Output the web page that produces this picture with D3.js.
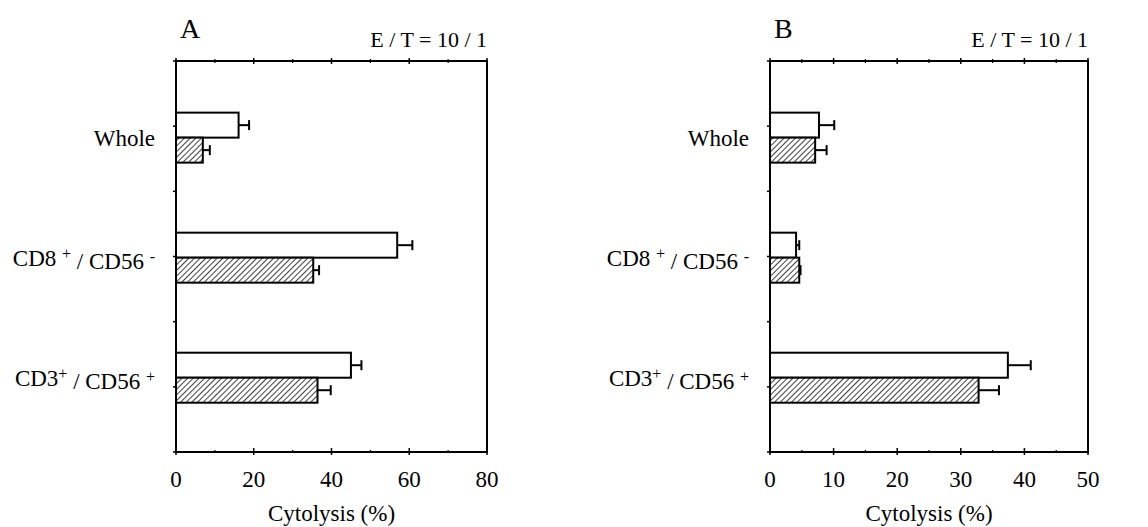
<!DOCTYPE html>
<html>
<head>
<meta charset="utf-8">
<script src="https://cdn.jsdelivr.net/npm/d3@7"></script>
<style>
  body { margin: 0; background: #fff; }
  svg text { font-family: "Liberation Serif", "DejaVu Serif", serif; fill: #000; }
</style>
</head>
<body>
<svg id="chart" width="1148" height="527"></svg>
<script>
// categories, top to bottom
const categories = ["Whole", "CD8/CD56-", "CD3/CD56+"];
// label pieces: [text, superscript]
const categoryLabels = [
  [["Whole", ""]],
  [["CD8 ", "+"], [" / CD56 ", "-"]],
  [["CD3", "+"], [" / CD56 ", "+"]],
];

// panel A
const aOpen = [16.1, 56.9, 45.0];
const aOpenErr = [2.7, 3.9, 2.7];
const aHatched = [6.9, 35.3, 36.4];
const aHatchedErr = [1.8, 1.5, 3.4];
const aMajorTicks = [0, 20, 40, 60, 80];
const aMinorTicks = [10, 30, 50, 70];

// panel B
const bOpen = [7.7, 4.1, 37.4];
const bOpenErr = [2.4, 0.5, 3.6];
const bHatched = [7.1, 4.6, 32.8];
const bHatchedErr = [1.8, 0.2, 3.2];
const bMajorTicks = [0, 10, 20, 30, 40, 50];
const bMinorTicks = [5, 15, 25, 35, 45];

const svg = d3.select("#chart");

// hatch pattern for the shaded bars
const defs = svg.append("defs");
const pat = defs.append("pattern")
  .attr("id", "hatch")
  .attr("patternUnits", "userSpaceOnUse")
  .attr("width", 4).attr("height", 4)
  .attr("patternTransform", "rotate(45)");
pat.append("rect").attr("width", 4).attr("height", 4).attr("fill", "#fff");
pat.append("line")
  .attr("x1", 0).attr("y1", 0).attr("x2", 0).attr("y2", 4)
  .attr("stroke", "#000").attr("stroke-width", 1.5);

function drawPanel(cfg) {
  const h = 391, w = cfg.width;
  const g = svg.append("g").attr("transform", `translate(${cfg.left},61)`);

  const x = d3.scaleLinear().domain([0, cfg.max]).range([0, w]);
  // axis ticks on the left: category centres and separators
  const yAxis = d3.scaleLinear().domain([0, 6]).range([0, h]);
  // bar pair centres
  const yBar = d3.scalePoint().domain(categories).range([h * 0.196, h * 0.81]);
  const barH = 25;

  categories.forEach((c, i) => {
    const cy = yBar(c);
    const rows = [
      { v: cfg.open[i], e: cfg.openErr[i], y: cy - barH, fill: "#fff" },
      { v: cfg.hatched[i], e: cfg.hatchedErr[i], y: cy, fill: "url(#hatch)" },
    ];
    rows.forEach(r => {
      g.append("line")
        .attr("x1", x(r.v)).attr("x2", x(r.v + r.e))
        .attr("y1", r.y + barH / 2).attr("y2", r.y + barH / 2)
        .attr("stroke", "#000").attr("stroke-width", 2);
      g.append("line")
        .attr("x1", x(r.v + r.e)).attr("x2", x(r.v + r.e))
        .attr("y1", r.y + barH / 2 - 5).attr("y2", r.y + barH / 2 + 5)
        .attr("stroke", "#000").attr("stroke-width", 2);
      g.append("rect")
        .attr("x", x(0)).attr("y", r.y)
        .attr("width", x(r.v) - x(0)).attr("height", barH)
        .attr("fill", r.fill)
        .attr("stroke", "#000").attr("stroke-width", 2);
    });

    // category label with raised signs
    const t = g.append("text")
      .attr("x", -21).attr("y", cy)
      .attr("dy", "0.35em")
      .attr("text-anchor", "end")
      .style("font-size", "23px");
    let raised = false;
    categoryLabels[i].forEach(([txt, sup]) => {
      const base = t.append("tspan").text(txt);
      if (raised) { base.attr("dy", "0.45em"); raised = false; }
      if (sup) {
        t.append("tspan").attr("dy", "-0.45em").style("font-size", "16px").text(sup);
        raised = true;
      }
    });
  });

  // frame
  g.append("rect")
    .attr("width", w).attr("height", h)
    .attr("fill", "none").attr("stroke", "#000").attr("stroke-width", 2);

  // x ticks top and bottom
  cfg.major.forEach(v => {
    g.append("line").attr("x1", x(v)).attr("x2", x(v)).attr("y1", -3).attr("y2", 3)
      .attr("stroke", "#000").attr("stroke-width", 1.5);
    g.append("line").attr("x1", x(v)).attr("x2", x(v)).attr("y1", h - 4).attr("y2", h + 3)
      .attr("stroke", "#000").attr("stroke-width", 1.5);
    g.append("text").attr("x", x(v)).attr("y", h + 35)
      .attr("text-anchor", "middle").style("font-size", "23px").text(v);
  });
  cfg.minor.forEach(v => {
    g.append("line").attr("x1", x(v)).attr("x2", x(v)).attr("y1", -2).attr("y2", 2)
      .attr("stroke", "#000").attr("stroke-width", 1.2);
    g.append("line").attr("x1", x(v)).attr("x2", x(v)).attr("y1", h - 2).attr("y2", h + 1)
      .attr("stroke", "#000").attr("stroke-width", 1.2);
  });

  // y ticks on left axis
  d3.range(0, 7).forEach(k => {
    g.append("line").attr("x1", -3).attr("x2", 1).attr("y1", yAxis(k)).attr("y2", yAxis(k))
      .attr("stroke", "#000").attr("stroke-width", 1.5);
  });

  g.append("text").attr("x", w / 2).attr("y", h + 69)
    .attr("text-anchor", "middle").style("font-size", "23px").text("Cytolysis (%)");
  g.append("text").attr("x", 4).attr("y", -23)
    .style("font-size", "28px").text(cfg.letter);
  g.append("text").attr("x", w).attr("y", -14)
    .attr("text-anchor", "end").style("font-size", "22px").text("E / T = 10 / 1");
}

drawPanel({ letter: "A", left: 176, width: 311, max: 80,
  open: aOpen, openErr: aOpenErr, hatched: aHatched, hatchedErr: aHatchedErr,
  major: aMajorTicks, minor: aMinorTicks });
drawPanel({ letter: "B", left: 770, width: 318, max: 50,
  open: bOpen, openErr: bOpenErr, hatched: bHatched, hatchedErr: bHatchedErr,
  major: bMajorTicks, minor: bMinorTicks });
</script>
</body>
</html>
